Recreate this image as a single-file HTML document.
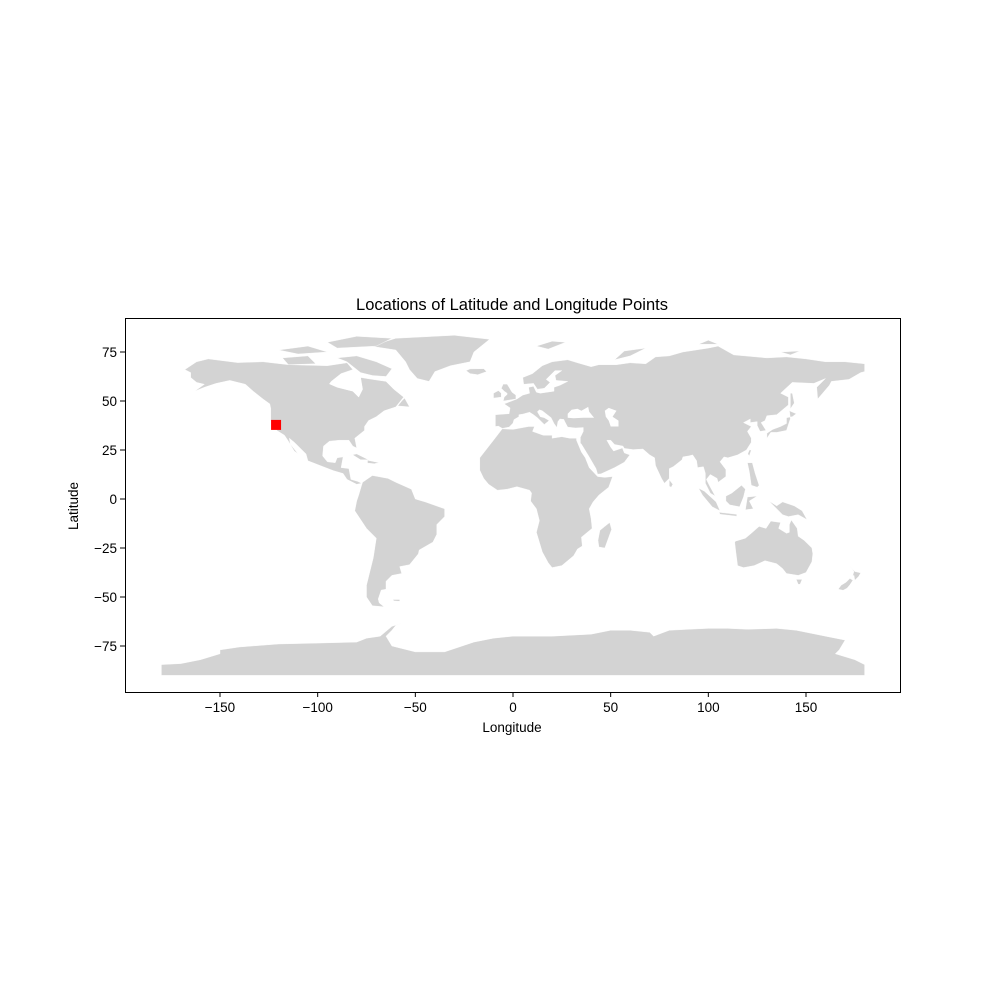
<!DOCTYPE html>
<html><head><meta charset="utf-8">
<style>
html,body{margin:0;padding:0;background:#fff;}
svg text{font-family:"Liberation Sans","DejaVu Sans",sans-serif;}
</style></head>
<body>
<svg id="chart" width="1000" height="1000" viewBox="0 0 1000 1000" xmlns="http://www.w3.org/2000/svg">
<rect width="1000" height="1000" fill="#fff"/>
<text x="512" y="310" text-anchor="middle" font-size="16.5" fill="#000">Locations of Latitude and Longitude Points</text>
<g id="land"></g>
<g id="water"></g>
<g id="pts"></g>
<rect x="125.5" y="318.5" width="775" height="374" fill="none" stroke="#000" stroke-width="1"/>
<g id="xt"></g>
<g id="yt"></g>
<text x="512" y="732" text-anchor="middle" font-size="13.5">Longitude</text>
<text x="0" y="0" transform="translate(78,506) rotate(-90)" text-anchor="middle" font-size="13.5">Latitude</text>
</svg>
<script>
const xTicks=[-150,-100,-50,0,50,100,150];
const yTicks=[-75,-50,-25,0,25,50,75];
const pointLons=[-121.3];
const pointLats=[37.8];
const landNames=["north-america","greenland","baffin","victoria-island","ellesmere","arctic-island","south-america","eurasia","africa","madagascar","great-britain","ireland","iceland","japan","sumatra","java","borneo","sulawesi","new-guinea","philippines","taiwan","sri-lanka","australia","tasmania","nz-north","nz-south","antarctica","novaya-zemlya","svalbard","severnaya-zemlya","new-siberian","sakhalin","cuba","hispaniola","newfoundland","falklands"];
const landShapes=[
[[-168,66],[-162,70],[-156,71.5],[-141,69.6],[-128,70],[-115,68.5],[-95,68],[-85,69.5],[-82,66],[-88,64],[-93,60],[-94,58.7],[-90,57],[-82,55],[-79,52],[-77,56],[-78,62],[-72,61],[-65,60],[-61,56],[-56,52],[-60,47],[-66,45],[-70,42],[-74,40],[-76,37],[-76,35],[-81,31],[-80,26],[-82,27],[-84,30],[-89,30],[-94,29.5],[-97,27],[-97.5,22],[-95,19],[-91,18.5],[-90,21],[-87,21.5],[-88,16],[-84,15.5],[-83,10],[-79.5,9],[-77.5,8],[-80,7.5],[-85,10],[-87,13],[-92,14.5],[-96,16],[-105,19.5],[-106,23],[-112,29],[-114.5,31],[-114,28],[-110,23],[-112,24.5],[-115,29.5],[-117,32.5],[-121,35],[-124,40],[-124,46],[-124.5,48.5],[-128,51],[-133,55],[-137,58.5],[-145,60.5],[-152,59],[-158,57],[-163,55],[-158,58.5],[-162,59.5],[-165,62],[-165,64.5],[-168,66]],
[[-73,78],[-60,82],[-30,83.5],[-12,81.5],[-20,75],[-22,70],[-32,68],[-40,65],[-43,60],[-49,61.5],[-53,66],[-55,70],[-60,76],[-73,78]],
[[-80,73],[-70,70],[-62,66.5],[-65,62.5],[-72,63],[-78,64.5],[-85,70],[-90,72]],
[[-118,72],[-105,73],[-101,69],[-115,68.5]],
[[-90,77],[-70,78],[-62,82],[-80,83],[-95,80]],
[[-120,76],[-105,78],[-95,75],[-110,74]],
[[-77,8.5],[-72,12],[-64,10.5],[-60,8.5],[-52,5],[-50,0],[-45,-1.5],[-35,-5],[-35,-9],[-39,-13],[-39,-18],[-41,-22],[-48,-26],[-48.5,-28],[-53,-33.5],[-58,-34.5],[-57,-38],[-62,-39],[-65,-42],[-65,-46],[-67.5,-46.5],[-69,-51],[-68.5,-53],[-66,-55],[-72,-54.5],[-75,-50],[-75,-44],[-73.5,-38],[-71.5,-30],[-70,-20],[-75,-15],[-81,-6],[-80,-1],[-79,2],[-77.5,7]],
[[-9,37],[-9,43],[-2,43.5],[-1.5,46.5],[-4.5,48.5],[2,51],[5,53],[8.5,54],[8,57],[10.5,57.5],[12,54.5],[14,54],[21,55],[21,57],[24,58],[28,60],[22,60.5],[21.5,63],[25,65.5],[21.5,65.5],[17,61],[19,59.5],[16,56.5],[12.5,56],[10.5,59],[5.5,58.5],[5,62],[10,64],[15,68],[20,70],[28,71],[33,69.5],[40,67.5],[44,68.5],[53,68.5],[60,69.5],[68,69],[73,72.5],[80,73],[87,75],[100,77],[105,78],[113,73.5],[130,72],[140,72.5],[150,71.5],[160,70],[170,70],[180,69],[180,65],[178,64.5],[172,61],[163,60],[162,58],[156,51],[155.5,57],[160,61.5],[154,59],[143,59.5],[137,54],[141,52],[141,48],[135,43],[130,42.5],[129,40],[127,39],[129.5,35],[126.5,34.5],[125,37.5],[125,39.5],[121.5,39],[121.5,40.8],[118,39],[122,37],[120,34.5],[122,31],[122,29],[119.5,25],[115,22.5],[110,21],[108,21.5],[106,19],[109,15],[109,11.5],[105,8.5],[104.5,10.5],[101,12.5],[99,10],[100.5,7],[103.5,1.5],[101,3],[98.5,8],[98.5,13],[97.5,16.5],[94.5,16],[94,19.5],[92,22.5],[90,22],[87,21.5],[86.5,20],[82,16.5],[80,15.5],[80,10.5],[77.5,8],[76,10.5],[73,17],[72.5,21],[70,22.5],[66.5,25.5],[61.5,25.2],[57,25.8],[56.3,27],[52,27.8],[50,30],[48,30],[50,26.5],[51.5,24.5],[56,26],[57,23.5],[59.8,22.5],[57,18.8],[52,16],[45,12.8],[43.3,12.7],[42.5,15.5],[39,21.5],[35,28],[34.5,28.5],[34.5,31.5],[36,34.5],[36,36.5],[32,36.2],[28,36.7],[26.5,39.5],[26,40.6],[24,40.8],[23,39.5],[22.5,36.5],[21,38.5],[19.5,41.5],[15,45],[13.5,45.5],[12.5,44.5],[14,42],[16,41.5],[18.5,40],[16,38],[12.5,41.5],[10.5,43],[8.5,44.3],[5,43.3],[3,43],[3,42],[0.5,40.5],[0,38.7],[-2,36.7],[-5.5,36],[-7.5,37.2]],
[[-5.5,35.8],[0,35.5],[8,37],[11,37],[10,34.5],[15.5,32.5],[20,32.5],[20,31],[25,31.8],[29,31],[32.5,31],[32.5,30],[35,24],[37,21],[39,16],[43.3,11.5],[47,11],[51,11.5],[49,6],[44,2],[41,-1.5],[39,-5],[40,-10],[40.5,-15],[35,-19.5],[35.5,-24],[33,-25.5],[31,-29],[25,-34],[20,-35],[18,-32.5],[15,-27],[12,-17],[13.5,-11],[12,-5],[9,-1],[9.5,3],[8.5,4.5],[2,6.3],[-3,5],[-8,4.5],[-12.5,7.5],[-15,10.5],[-17,14.7],[-17,21],[-10,30]],
[[49.5,-12],[50.5,-15.5],[47,-25],[44,-24.5],[43.5,-21],[44.5,-16],[47,-14]],
[[-5,50],[1.5,51],[1.5,53],[-0.5,54.5],[-2,57],[-3,58.6],[-5,58.6],[-6,56.5],[-4.5,55],[-3,54],[-3,53.3],[-4.5,52]],
[[-6,52],[-10,51.5],[-10,54],[-7.5,55.3],[-6,54]],
[[-22,64],[-24,65.5],[-22,66.4],[-15,66.5],[-13.5,65],[-18,63.4]],
[[130,31],[132,34],[135,34],[140,35],[141,38],[142,41],[141.5,45],[145,43.5],[143,42],[140,41.5],[140,38.5],[137,37],[133,35.5],[130,33.5]],
[[95,5.5],[98,4],[104,-1.5],[106,-6],[102,-4],[97,2]],
[[105.5,-6.8],[114.5,-7.8],[114.5,-8.8],[106,-7.8]],
[[109,1.5],[112,3],[117,7],[119,5],[118,1],[116,-4],[111,-3],[109,-1]],
[[119,-5.5],[120,1],[125,1.5],[121,-1],[123,-5]],
[[131,-1],[135,-3.5],[138,-1.5],[144,-3.5],[148,-6],[150.5,-10.5],[146,-8],[141,-9],[138,-8],[134,-4]],
[[120,18.5],[122.5,18.5],[124,13],[126,7],[125,6],[122,7],[121,14]],
[[121,25],[122,25],[121,22],[120.2,23]],
[[80,9.8],[81.8,7.5],[81,6],[80,6.5]],
[[113.5,-22],[114,-26.5],[115,-34],[118,-35],[123.5,-34],[129,-31.5],[135,-33],[138,-35.5],[140,-38],[146,-39],[150,-37.5],[153,-32],[153.5,-28],[153,-25],[149,-21],[146,-19],[145.5,-15],[142.5,-10.7],[141.5,-13],[141.5,-17],[140,-17.5],[136,-15],[137,-12],[132,-11.3],[129.5,-15],[126,-14],[122,-17.5],[119,-20],[114,-21.5]],
[[145,-41],[148,-41],[147,-43.5],[146,-43.5]],
[[173,-35],[175,-37],[178,-37.7],[177,-39.5],[175,-41.5],[174.6,-39],[173.9,-39.2],[174.5,-37],[172.7,-34.4]],
[[172.5,-40.5],[174,-41.5],[172.5,-43.8],[171,-45.5],[169,-46.6],[166.5,-46],[168,-44],[170.5,-42.5]],
[[-180,-84.5],[-170,-84],[-160,-82],[-150,-79],[-150,-77],[-140,-75.5],[-120,-74],[-100,-73.5],[-80,-73],[-75,-71],[-68,-70],[-62,-65],[-57,-63.3],[-60,-64.5],[-62,-67],[-65,-70],[-62,-75],[-50,-78],[-35,-78],[-20,-73],[-10,-71],[0,-70],[10,-70],[20,-70],[30,-69.5],[40,-69],[50,-67],[60,-67],[70,-68],[72,-70],[80,-67],[90,-66.5],[100,-66],[110,-66],[120,-66.5],[135,-66],[145,-67],[160,-70],[170,-72],[167,-77],[165,-79],[175,-82],[180,-84.5],[180,-90],[-180,-90]],
[[52,71],[57,75.5],[68,77],[60,73]],
[[12,78],[20,80.5],[27,80],[18,76.5]],
[[95,79],[105,79],[100,81]],
[[137,75],[147,75.5],[142,73.5]],
[[142,46],[144,49],[143,54],[142,54]],
[[-85,22],[-80,23],[-74,20],[-78,20],[-82,22.5]],
[[-74.5,19.8],[-68.5,18.5],[-71,18],[-74.5,18.3]],
[[-59,47.5],[-53,47],[-55.5,51.5],[-57,50]],
[[-61.5,-51.3],[-58,-51.3],[-58,-52.2],[-61,-52]]
];
const waterNames=["black-sea","caspian-sea","hudson-bay"];
const waterShapes=[
[[28,41.5],[28,43.5],[30,45.5],[33,46],[35,45],[38.5,47],[39,44.5],[41.5,41.5],[36,41.5],[31,41.2]],
[[47,45],[49,46.5],[53,45],[51,42],[54,40],[54,37],[50,37],[49,40],[47.5,42]],
[[-93,60],[-94,58.7],[-90,57],[-82,55],[-79,52],[-77,56],[-78,62],[-82,64],[-88,64]]
];
const X0=125,X1=900,Y0=318,Y1=692;
function xs(lon){return 513+1.9533*lon;}
function ys(lat){return 499-1.96*lat;}
const NS="http://www.w3.org/2000/svg";
function poly(pts){return pts.map(p=>xs(p[0]).toFixed(1)+","+ys(p[1]).toFixed(1)).join(" ");}
const land=document.getElementById("land");
landShapes.forEach((s,i)=>{
  const p=document.createElementNS(NS,"polygon");
  p.setAttribute("points",poly(s));
  p.setAttribute("fill","#d3d3d3");
  p.setAttribute("stroke","#ffffff");
  p.setAttribute("stroke-width","0.4");
  
  
  land.appendChild(p);
});
const water=document.getElementById("water");
waterShapes.forEach((s,i)=>{
  const p=document.createElementNS(NS,"polygon");
  p.setAttribute("points",poly(s));
  p.setAttribute("fill","#ffffff");
  
  
  water.appendChild(p);
});
const pts=document.getElementById("pts");
pointLons.forEach((lon,i)=>{
  const r=document.createElementNS(NS,"rect");
  r.setAttribute("x",xs(lon)-5);
  r.setAttribute("y",ys(pointLats[i])-5);
  r.setAttribute("width",10);
  r.setAttribute("height",10);
  r.setAttribute("fill","#ff0000");
  
  
  pts.appendChild(r);
});
const xt=document.getElementById("xt");
xTicks.forEach(v=>{
  const x=xs(v);
  const l=document.createElementNS(NS,"line");
  l.setAttribute("x1",x);l.setAttribute("x2",x);l.setAttribute("y1",Y1);l.setAttribute("y2",Y1+5);
  l.setAttribute("stroke","#000");
  
  
  xt.appendChild(l);
  const t=document.createElementNS(NS,"text");
  t.setAttribute("x",x);t.setAttribute("y",Y1+20);t.setAttribute("text-anchor","middle");t.setAttribute("font-size","13.5");
  t.textContent=v<0?"\u2212"+Math.abs(v):String(v);
  
  
  xt.appendChild(t);
});
const yt=document.getElementById("yt");
yTicks.forEach(v=>{
  const y=ys(v);
  const l=document.createElementNS(NS,"line");
  l.setAttribute("x1",X0-5);l.setAttribute("x2",X0);l.setAttribute("y1",y);l.setAttribute("y2",y);
  l.setAttribute("stroke","#000");
  
  
  yt.appendChild(l);
  const t=document.createElementNS(NS,"text");
  t.setAttribute("x",X0-8);t.setAttribute("y",y+5);t.setAttribute("text-anchor","end");t.setAttribute("font-size","13.5");
  t.textContent=v<0?"\u2212"+Math.abs(v):String(v);
  
  
  yt.appendChild(t);
});
</script>
</body></html>
